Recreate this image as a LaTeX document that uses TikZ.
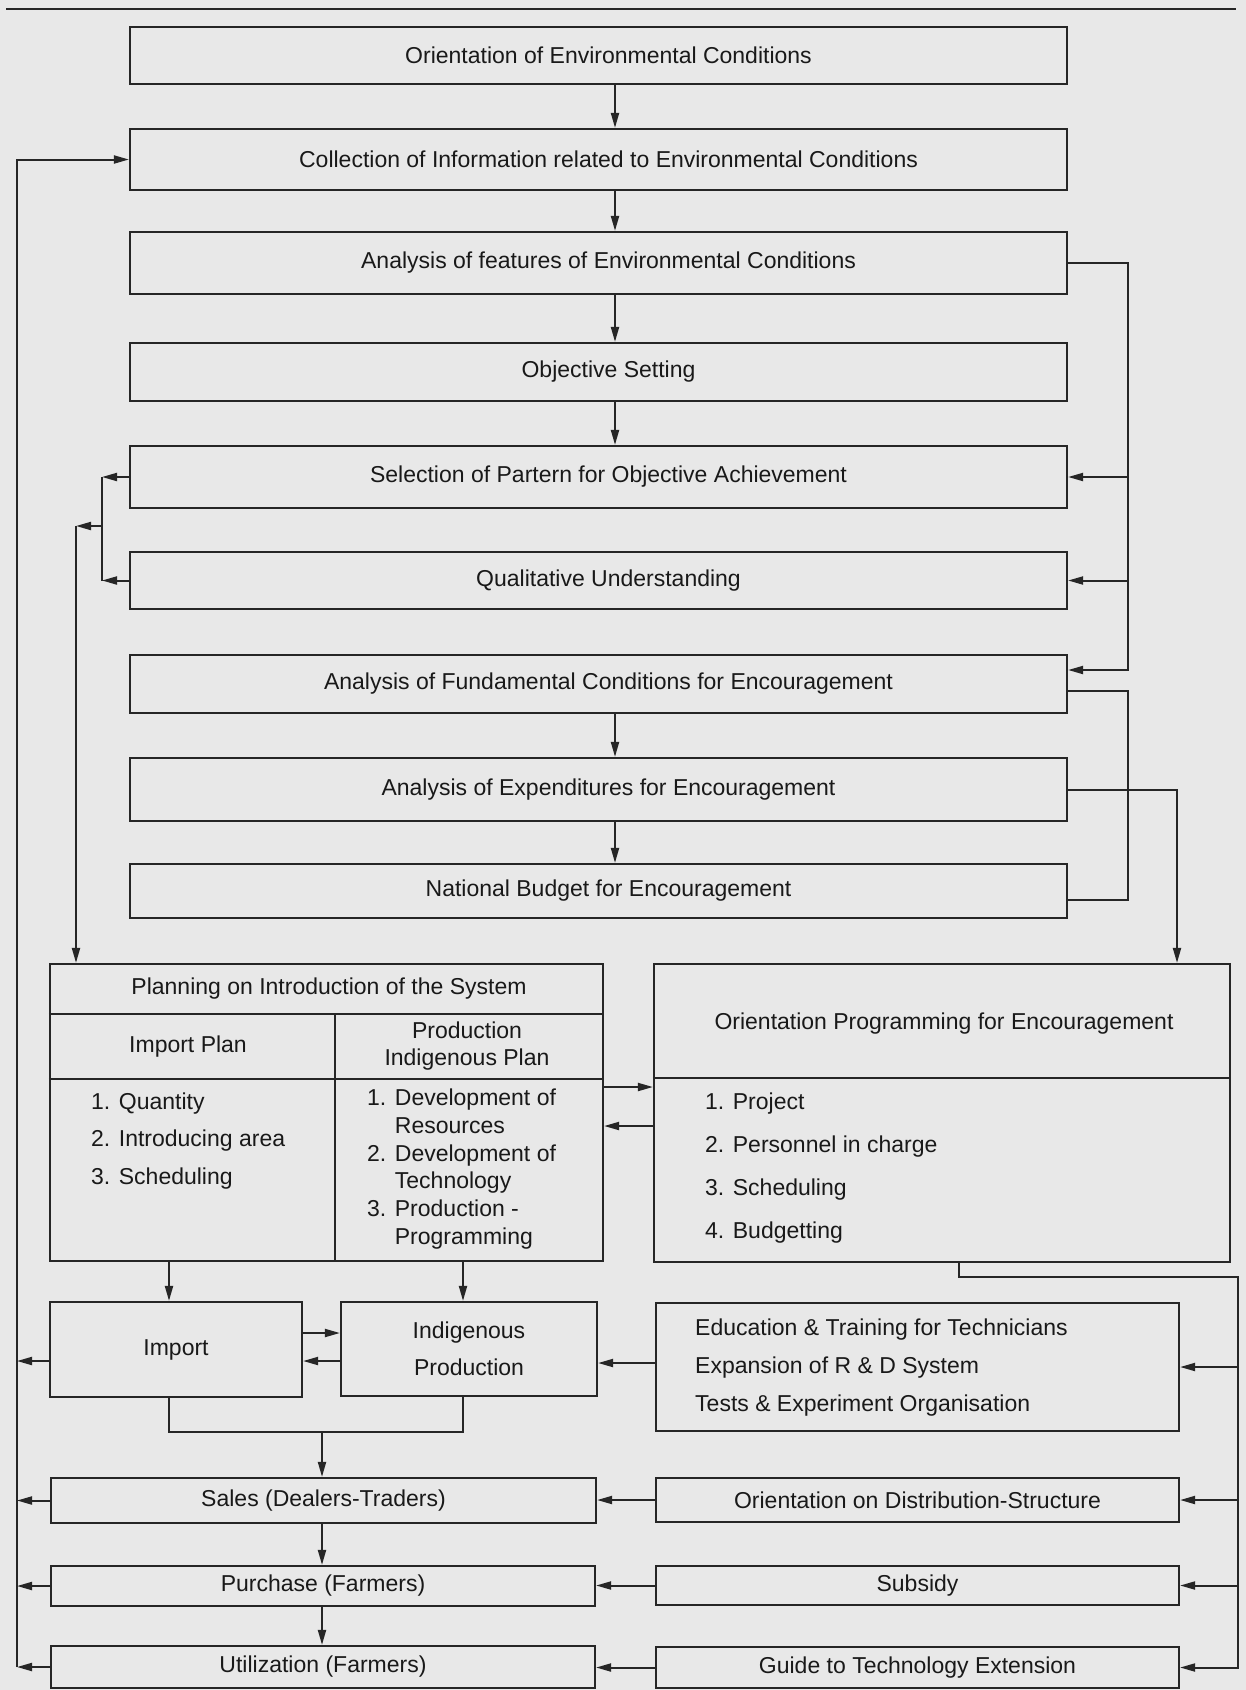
\documentclass[tikz,border=0pt]{standalone}
\usepackage{fontspec}
\setmainfont{Liberation Sans}
\usetikzlibrary{arrows.meta, positioning}

\begin{document}
\begin{tikzpicture}[x=1pt, y=-1pt,
  frame/.style={rectangle, draw=black!85, line width=2.2pt, inner sep=0pt, text=black!90,
              font=\fontsize{23}{28}\selectfont},
  box/.style={frame, align=center},
  mbox/.style={frame, minimum width=937pt, execute at begin node={\hspace*{20pt}}},
  lbl/.style={inner sep=0pt, text=black!90, align=center, font=\fontsize{23}{28}\selectfont},
  lst/.style={lbl, align=left, anchor=west},
  ln/.style={draw=black!85, line width=2pt},
  flow/.style={ln, -{Triangle[length=15pt, width=8pt]}}
]
  \path[use as bounding box, fill=black!9] (0,0) rectangle (1246,1690);
  \draw[draw=black!85, line width=2.6pt] (6,9) -- (1236,9);

  % main column
  \node[mbox, minimum height=57pt] (m1) at (598.5,55.5) {Orientation of Environmental Conditions};
  \node[mbox, minimum height=61pt] (m2) at (598.5,159.5) {Collection of Information related to Environmental Conditions};
  \node[mbox, minimum height=62pt] (m3) at (598.5,263) {Analysis of features of Environmental Conditions};
  \node[mbox, minimum height=58pt] (m4) at (598.5,372) {Objective Setting};
  \node[mbox, minimum height=62pt] (m5) at (598.5,477) {Selection of Partern for Objective Achievement};
  \node[mbox, minimum height=57pt] (m6) at (598.5,580.5) {Qualitative Understanding};
  \node[mbox, minimum height=58pt] (m7) at (598.5,684) {Analysis of Fundamental Conditions for Encouragement};
  \node[mbox, minimum height=63pt] (m8) at (598.5,789.5) {Analysis of Expenditures for Encouragement};
  \node[mbox, minimum height=54pt] (m9) at (598.5,891) {National Budget for Encouragement};

  % planning block
  \node[box, minimum width=553pt, minimum height=297pt] (plan) at (326.5,1112.5) {};
  \draw[ln] (plan.west |- 0,1014) -- (plan.east |- 0,1014);
  \draw[ln] (plan.west |- 0,1079) -- (plan.east |- 0,1079);
  \draw[ln] (335,1014) -- (plan.south -| 335,0);
  \node[lbl] (ptitle) at (329,989) {Planning on Introduction of the System};
  \node[lbl] (pimp) at (188,1047) {Import Plan};
  \node[lbl, font=\fontsize{23}{27}\selectfont] (pind) at (467,1046) {Production\\Indigenous Plan};
  \node[lst, font=\fontsize{23}{37.5}\selectfont] (pimpl) at (91,1141) {1. Quantity\\2. Introducing area\\3. Scheduling};
  \node[lst, font=\fontsize{23}{27.8}\selectfont] (pindl) at (367,1169)
    {1. Development of\\\phantom{1. }Resources\\2. Development of\\\phantom{2. }Technology\\3. Production -\\\phantom{3. }Programming};

  % orientation programming
  \node[box, minimum width=576pt, minimum height=298pt] (op) at (942,1113) {};
  \draw[ln] (op.west |- 0,1078) -- (op.east |- 0,1078);
  \node[lbl] (optitle) at (944,1024) {Orientation Programming for Encouragement};
  \node[lst, font=\fontsize{23}{43}\selectfont] (opl) at (705,1168)
    {1. Project\\2. Personnel in charge\\3. Scheduling\\4. Budgetting};

  % lower left
  \node[box, minimum width=252pt, minimum height=95pt] (imp) at (176,1349.5) {Import};
  \node[box, minimum width=256pt, minimum height=94pt, font=\fontsize{23}{37}\selectfont] (indig) at (469,1349) {Indigenous\\Production};
  \node[box, minimum width=545pt, minimum height=45pt] (sales) at (323.5,1500.5) {Sales (Dealers-Traders)};
  \node[box, minimum width=544pt, minimum height=40pt] (purch) at (323,1586) {Purchase (Farmers)};
  \node[box, minimum width=544pt, minimum height=42pt] (util) at (323,1667) {Utilization (Farmers)};

  % lower right
  \node[box, minimum width=523pt, minimum height=128pt] (edu) at (917.5,1367) {};
  \node[lst, font=\fontsize{23}{38}\selectfont] (edul) at (695,1368)
    {Education \& Training for Technicians\\Expansion of R \& D System\\Tests \& Experiment Organisation};
  \node[box, minimum width=523pt, minimum height=44pt] (dist) at (917.5,1500) {Orientation on Distribution-Structure};
  \node[box, minimum width=523pt, minimum height=39pt] (subs) at (917.5,1585.5) {Subsidy};
  \node[box, minimum width=523pt, minimum height=41pt] (guide) at (917.5,1667.5) {Guide to Technology Extension};

  % bus lines
  \coordinate (ax) at (615,0);
  \coordinate (lbus) at (17,0);
  \coordinate (sbus) at (102,0);
  \coordinate (pbus) at (76,0);
  \coordinate (smid) at (102,526);
  \coordinate (fbus) at (1128,0);
  \coordinate (obus) at (1177,0);
  \coordinate (rbus) at (1238,0);
  \coordinate (f7) at ([yshift=14pt]m7.east);
  \coordinate (g7) at ([yshift=-7pt]m7.east);
  \coordinate (g9) at ([yshift=-9pt]m9.east);
  \coordinate (po) at (0,1087);
  \coordinate (pb) at (0,1126);
  \coordinate (ia) at (169,0);
  \coordinate (na) at (463,0);
  \coordinate (yA) at (0,1333);
  \coordinate (yB) at (0,1361);
  \coordinate (yE) at (0,1363);
  \coordinate (my) at (0,1432);
  \coordinate (sx) at (322,0);
  \coordinate (ob) at (959,0);
  \coordinate (oy) at (0,1277);

  % main chain
  \foreach \a/\b in {m1/m2, m2/m3, m3/m4, m4/m5, m7/m8, m8/m9}
    \draw[flow] (\a.south -| ax) -- (\b.north -| ax);

  % left side
  \draw[flow] (m5.west) -- (m5.west -| sbus);
  \draw[flow] (m6.west) -- (m6.west -| sbus);
  \draw[ln] (m5.west -| sbus) -- (m6.west -| sbus);
  \draw[flow] (smid) -- (smid -| pbus);
  \draw[flow] (smid -| pbus) -- (plan.north -| pbus);

  % right side
  \draw[flow] (m3.east) -| (f7 -| fbus) -- (f7);
  \draw[flow] (m5.east -| fbus) -- (m5.east);
  \draw[flow] (m6.east -| fbus) -- (m6.east);
  \draw[ln] (g7) -| (g9 -| fbus) -- (g9);
  \draw[flow] (m8.east) -| (op.north -| obus);

  % planning links
  \draw[flow] (plan.east |- po) -- (op.west |- po);
  \draw[flow] (op.west |- pb) -- (plan.east |- pb);
  \draw[flow] (plan.south -| ia) -- (imp.north -| ia);
  \draw[flow] (plan.south -| na) -- (indig.north -| na);
  \draw[flow] (imp.east |- yA) -- (indig.west |- yA);
  \draw[flow] (indig.west |- yB) -- (imp.east |- yB);
  \draw[ln] (imp.south -| ia) -- (ia |- my) -- (na |- my) -- (indig.south -| na);
  \draw[flow] (sx |- my) -- (sales.north -| sx);
  \draw[flow] (sales.south -| sx) -- (purch.north -| sx);
  \draw[flow] (purch.south -| sx) -- (util.north -| sx);

  % outer left feedback
  \draw[flow] (imp.west |- yB) -- (lbus |- yB);
  \draw[flow] (sales.west) -- (sales.west -| lbus);
  \draw[flow] (purch.west) -- (purch.west -| lbus);
  \draw[flow] (util.west) -- (util.west -| lbus);
  \draw[flow] (util.west -| lbus) |- (m2.west);

  % right column to left column
  \draw[flow] (edu.west |- yE) -- (indig.east |- yE);
  \draw[flow] (dist.west) -- (dist.west -| sales.east);
  \draw[flow] (subs.west) -- (subs.west -| purch.east);
  \draw[flow] (guide.west) -- (guide.west -| util.east);

  % outer right feed
  \draw[flow] (op.south -| ob) |- (oy -| rbus) |- (guide.east);
  \draw[flow] (edu.east -| rbus) -- (edu.east);
  \draw[flow] (dist.east -| rbus) -- (dist.east);
  \draw[flow] (subs.east -| rbus) -- (subs.east);
\end{tikzpicture}
\end{document}
